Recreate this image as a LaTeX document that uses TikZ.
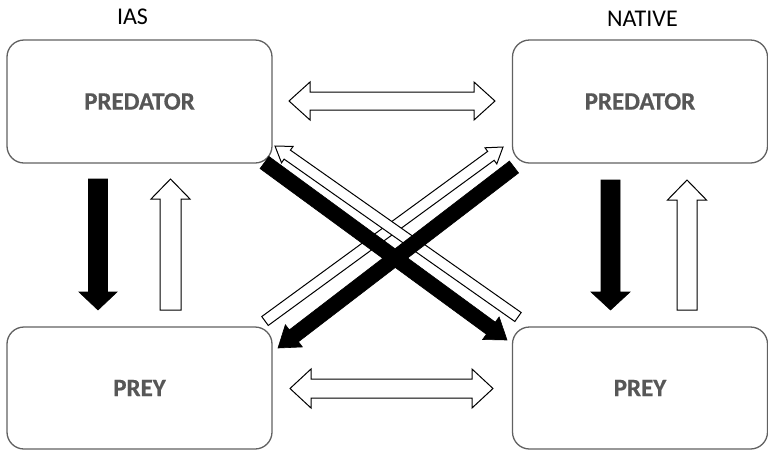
\documentclass[tikz,border=0pt]{standalone}
\usepackage{fontspec}
\setmainfont{Carlito}
\newfontfamily\boxfont[FakeBold=0.6]{Carlito Bold}
\usetikzlibrary{calc}
\newcommand{\sarr}[6]{%
  \coordinate (#2-#3h) at ($(#3)!#6!(#2)$);
  \draw[#1] ($(#2)!#4!90:(#3)$) -- ($(#2-#3h)!#4!90:(#3)$) -- ($(#2-#3h)!#5!90:(#3)$) -- (#3)
    -- ($(#2-#3h)!#5!-90:(#3)$) -- ($(#2-#3h)!#4!-90:(#3)$) -- ($(#2)!#4!-90:(#3)$) -- cycle;}
\newcommand{\darr}[6]{%
  \coordinate (#2-#3a) at ($(#2)!#6!(#3)$);
  \coordinate (#2-#3b) at ($(#3)!#6!(#2)$);
  \draw[#1] (#2) -- ($(#2-#3a)!#5!90:(#3)$) -- ($(#2-#3a)!#4!90:(#3)$) -- ($(#2-#3b)!#4!90:(#3)$)
    -- ($(#2-#3b)!#5!90:(#3)$) -- (#3) -- ($(#2-#3b)!#5!-90:(#3)$) -- ($(#2-#3b)!#4!-90:(#3)$)
    -- ($(#2-#3a)!#4!-90:(#3)$) -- ($(#2-#3a)!#5!-90:(#3)$) -- cycle;}
\tikzset{
  box/.style={draw=black!62, line width=1.3pt, rounded corners=17pt, fill=white,
    font=\fontsize{25}{30}\boxfont, text=black!66},
  head/.style={font=\fontsize{24}{29}\selectfont, text=black},
  whitearr/.style={draw=black, fill=white, line width=1pt, line join=miter},
  blackarr/.style={draw=black, fill=black, line width=0.6pt, line join=miter},
}
\begin{document}
\begin{tikzpicture}[x=1pt,y=-1pt]
\useasboundingbox (0,0) rectangle (768,451);
% boxes
\node[box, minimum width=265pt, minimum height=123pt] (iaspred) at (139.5,101.5) {PREDATOR};
\node[box, minimum width=255pt, minimum height=123pt] (natpred) at (640,101.5) {PREDATOR};
\node[box, minimum width=265pt, minimum height=122pt] (iasprey) at (139.5,388) {PREY};
\node[box, minimum width=255pt, minimum height=122pt] (natprey) at (640,388) {PREY};
% headings
\node[head, anchor=base] (ias) at (132.5,24.5) {IAS};
\node[head, anchor=base] (nat) at (642.5,26) {NATIVE};
% coordinates
\coordinate (hA1) at (289,101);   \coordinate (hA2) at (495,101);
\coordinate (hB1) at (290,388.5); \coordinate (hB2) at (493,388.5);
\coordinate (vLb1) at (98,179);   \coordinate (vLb2) at (98,310);
\coordinate (vLw1) at (170.5,310);\coordinate (vLw2) at (170.5,179);
\coordinate (vRb1) at (610.5,180);\coordinate (vRb2) at (610.5,310);
\coordinate (vRw1) at (687,310);  \coordinate (vRw2) at (687,180);
\coordinate (dW1a) at (265,321);  \coordinate (dW1b) at (503,147);
\coordinate (dW2a) at (518,317);  \coordinate (dW2b) at (275,146);
\coordinate (dK1a) at (264.5,162.5); \coordinate (dK1b) at (507,340);
\coordinate (dK2a) at (514,167);  \coordinate (dK2b) at (278,348);
% horizontal double arrows
\darr{whitearr}{hA1}{hA2}{9pt}{19pt}{21pt}
\darr{whitearr}{hB1}{hB2}{9.5pt}{19.5pt}{21pt}
% vertical arrows
\sarr{blackarr}{vLb1}{vLb2}{9.5pt}{19pt}{18pt}
\sarr{whitearr}{vLw1}{vLw2}{10.5pt}{19.5pt}{20pt}
\sarr{blackarr}{vRb1}{vRb2}{9.5pt}{19.5pt}{18pt}
\sarr{whitearr}{vRw1}{vRw2}{10pt}{19.5pt}{20pt}
% diagonal arrows
\sarr{whitearr}{dW1a}{dW1b}{5.5pt}{10pt}{15pt}
\sarr{whitearr}{dW2a}{dW2b}{5.5pt}{10pt}{15pt}
\sarr{blackarr}{dK1a}{dK1b}{7.5pt}{14pt}{20pt}
\sarr{blackarr}{dK2a}{dK2b}{7.5pt}{14pt}{20pt}
\end{tikzpicture}
\end{document}
